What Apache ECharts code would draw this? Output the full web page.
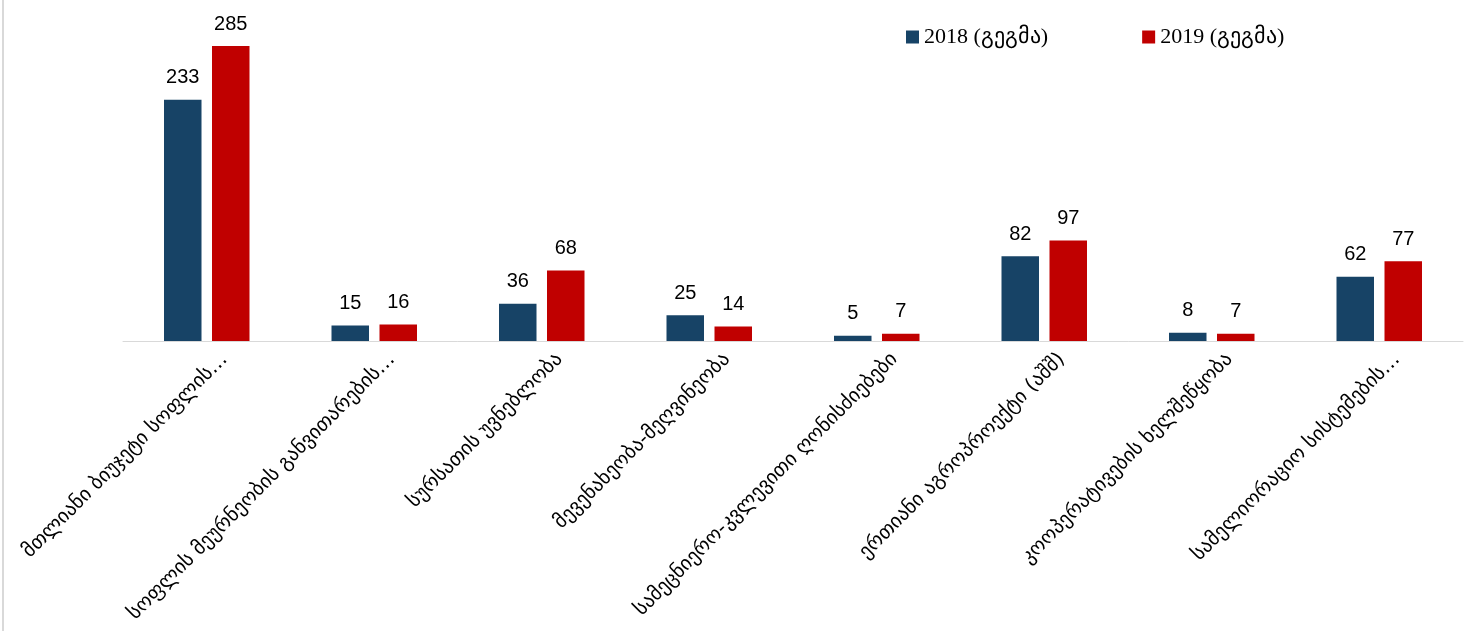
<!DOCTYPE html>
<html>
<head>
<meta charset="utf-8">
<script src="https://cdn.jsdelivr.net/npm/echarts@6/dist/echarts.min.js"></script>
<style>
html,body{margin:0;padding:0;background:#fff;}
#chart{width:1469px;height:631px;position:relative;}
#border{position:absolute;left:2px;top:0;width:2px;height:631px;background:#d9d9d9;}
</style>
</head>
<body>
<div id="chart"></div>
<div id="border"></div>
<script>
const categories = [
  'მთლიანი ბიუჯეტი სოფლის…',
  'სოფლის მეურნეობის განვითარების…',
  'სურსათის უვნებლობა',
  'მევენახეობა-მეღვინეობა',
  'სამეცნიერო-კვლევითი ღონისძიებები',
  'ერთიანი აგროპროექტი (აშშ)',
  'კოოპერატივების ხელშეწყობა',
  'სამელიორაციო სისტემების…'
];
const seriesNames = ['2018 (გეგმა)', '2019 (გეგმა)'];
const values2018 = [233, 15, 36, 25, 5, 82, 8, 62];
const values2019 = [285, 16, 68, 14, 7, 97, 7, 77];

const chart = echarts.init(document.getElementById('chart'));
const labelCfg = {
  show: true,
  position: 'top',
  distance: 12,
  color: '#000',
  fontSize: 20,
  fontFamily: 'Liberation Sans'
};
chart.setOption({
  animation: false,
  backgroundColor: '#fff',
  legend: {
    data: seriesNames,
    left: 901,
    top: 21,
    itemWidth: 13,
    itemHeight: 13,
    itemGap: 94,
    icon: 'rect',
    textStyle: { fontFamily: 'Liberation Serif', fontSize: 22, color: '#000' }
  },
  grid: { left: 123, right: 6, top: 30.5, bottom: 290, containLabel: false },
  xAxis: {
    type: 'category',
    data: categories,
    axisLine: { show: true, lineStyle: { color: '#d9d9d9', width: 1 } },
    axisTick: { show: false },
    axisLabel: {
      interval: 0,
      rotate: 45,
      margin: 33,
      padding: [0, -25, 0, 0],
      color: '#000',
      fontSize: 20,
      fontFamily: 'DejaVu Sans'
    }
  },
  yAxis: {
    type: 'value',
    min: 0,
    max: 300,
    show: false,
    splitLine: { show: false }
  },
  series: [
    {
      name: seriesNames[0],
      type: 'bar',
      data: values2018,
      barWidth: 37.5,
      barGap: '28%',
      itemStyle: { color: '#174366' },
      label: labelCfg
    },
    {
      name: seriesNames[1],
      type: 'bar',
      data: values2019,
      barWidth: 37.5,
      itemStyle: { color: '#c00000' },
      label: labelCfg
    }
  ]
});
</script>
</body>
</html>
